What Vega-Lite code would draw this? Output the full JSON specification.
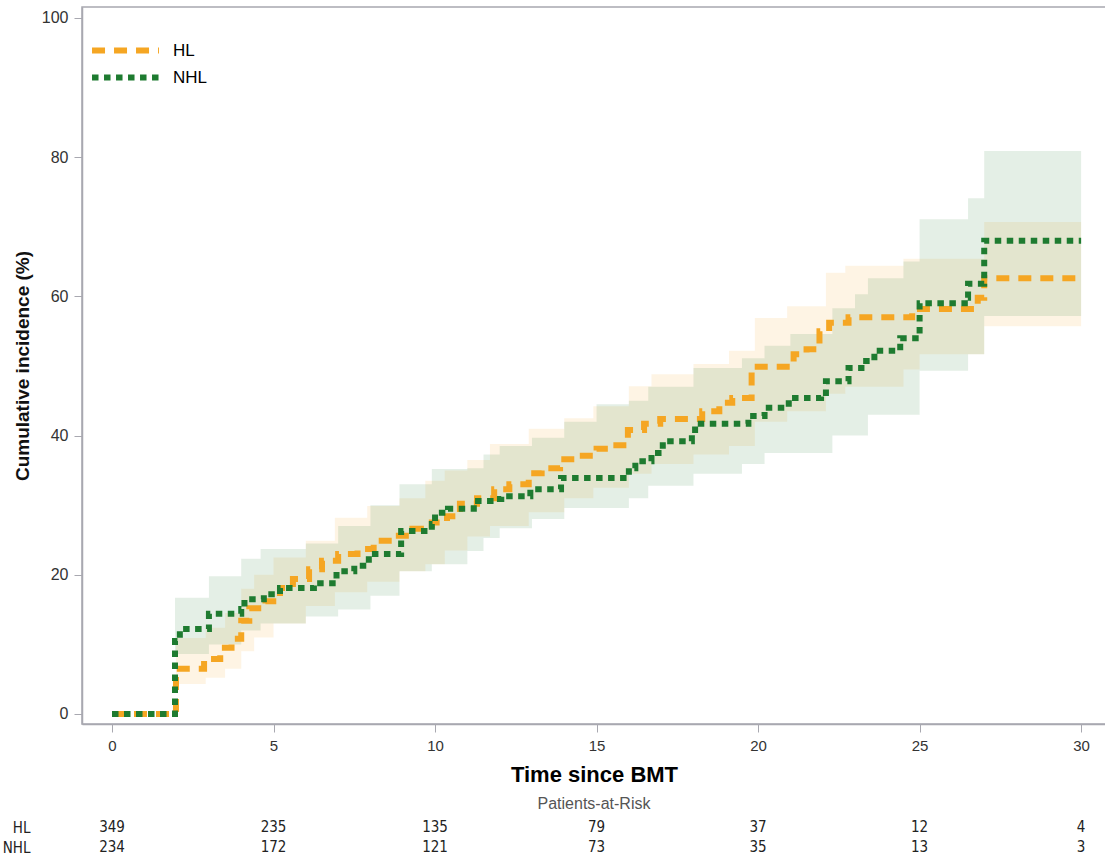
{
  "$schema": "https://vega.github.io/schema/vega-lite/v6.json",
  "background": "white",
  "padding": {"left": 2, "top": 6, "right": 1, "bottom": 0},
  "config": {"font": "Liberation Sans", "view": {"stroke": null},
    "legend": {"title": null, "orient": "top-left", "offset": 29, "padding": 0,
      "symbolType": "M-3,0H3", "symbolSize": 498, "symbolStrokeWidth": 6,
      "labelFontSize": 17, "labelColor": "#000000", "labelOffset": 33, "rowPadding": -2}},
  "spacing": 10,
  "resolve": {"legend": {"color": "independent", "strokeDash": "independent"}},
  "datasets": {
    "lines": [
      {"group": "HL", "t": 0, "v": 0}, {"group": "HL", "t": 1.98, "v": 6.5}, {"group": "HL", "t": 2.85, "v": 7.9},
      {"group": "HL", "t": 3.35, "v": 9.5}, {"group": "HL", "t": 3.7, "v": 10.8}, {"group": "HL", "t": 4.0, "v": 13.4},
      {"group": "HL", "t": 4.25, "v": 15.2}, {"group": "HL", "t": 4.75, "v": 16.2}, {"group": "HL", "t": 5.2, "v": 18.1},
      {"group": "HL", "t": 5.6, "v": 19.4}, {"group": "HL", "t": 6.1, "v": 20.8}, {"group": "HL", "t": 6.5, "v": 22.0},
      {"group": "HL", "t": 7.0, "v": 23.0}, {"group": "HL", "t": 7.6, "v": 23.7}, {"group": "HL", "t": 8.1, "v": 24.9},
      {"group": "HL", "t": 8.7, "v": 25.6}, {"group": "HL", "t": 9.3, "v": 26.6}, {"group": "HL", "t": 9.9, "v": 27.5},
      {"group": "HL", "t": 10.37, "v": 28.4}, {"group": "HL", "t": 10.77, "v": 30.2}, {"group": "HL", "t": 11.3, "v": 31.0},
      {"group": "HL", "t": 11.83, "v": 32.3}, {"group": "HL", "t": 12.3, "v": 33.0}, {"group": "HL", "t": 12.9, "v": 34.6},
      {"group": "HL", "t": 13.3, "v": 35.3}, {"group": "HL", "t": 13.87, "v": 36.6}, {"group": "HL", "t": 14.4, "v": 37.1},
      {"group": "HL", "t": 15.0, "v": 38.1}, {"group": "HL", "t": 15.5, "v": 38.6}, {"group": "HL", "t": 15.97, "v": 40.8},
      {"group": "HL", "t": 16.47, "v": 41.7}, {"group": "HL", "t": 16.97, "v": 42.4}, {"group": "HL", "t": 18.27, "v": 43.5},
      {"group": "HL", "t": 18.8, "v": 44.7}, {"group": "HL", "t": 19.2, "v": 45.4}, {"group": "HL", "t": 19.8, "v": 49.9},
      {"group": "HL", "t": 21.1, "v": 51.7}, {"group": "HL", "t": 21.5, "v": 52.4}, {"group": "HL", "t": 21.9, "v": 55.0},
      {"group": "HL", "t": 22.2, "v": 56.2}, {"group": "HL", "t": 22.8, "v": 57.0}, {"group": "HL", "t": 24.77, "v": 58.2},
      {"group": "HL", "t": 26.8, "v": 59.8}, {"group": "HL", "t": 27.0, "v": 62.6}, {"group": "HL", "t": 30.0, "v": 62.6},
      {"group": "NHL", "t": 0, "v": 0}, {"group": "NHL", "t": 1.95, "v": 10.5}, {"group": "NHL", "t": 2.1, "v": 12.2},
      {"group": "NHL", "t": 3.0, "v": 14.4}, {"group": "NHL", "t": 4.0, "v": 15.1}, {"group": "NHL", "t": 4.1, "v": 16.5},
      {"group": "NHL", "t": 4.7, "v": 17.2}, {"group": "NHL", "t": 5.2, "v": 18.1}, {"group": "NHL", "t": 6.25, "v": 18.8},
      {"group": "NHL", "t": 6.95, "v": 20.5}, {"group": "NHL", "t": 7.5, "v": 21.3}, {"group": "NHL", "t": 7.95, "v": 23.0},
      {"group": "NHL", "t": 8.95, "v": 26.3}, {"group": "NHL", "t": 9.9, "v": 27.3}, {"group": "NHL", "t": 10.0, "v": 28.9},
      {"group": "NHL", "t": 10.4, "v": 29.5}, {"group": "NHL", "t": 11.2, "v": 30.6}, {"group": "NHL", "t": 11.85, "v": 30.9},
      {"group": "NHL", "t": 12.05, "v": 31.3}, {"group": "NHL", "t": 12.95, "v": 32.3}, {"group": "NHL", "t": 13.9, "v": 33.9},
      {"group": "NHL", "t": 16.0, "v": 35.3}, {"group": "NHL", "t": 16.2, "v": 36.3}, {"group": "NHL", "t": 16.7, "v": 37.5},
      {"group": "NHL", "t": 17.05, "v": 39.2}, {"group": "NHL", "t": 17.95, "v": 40.2}, {"group": "NHL", "t": 18.05, "v": 41.7},
      {"group": "NHL", "t": 19.7, "v": 42.8}, {"group": "NHL", "t": 20.2, "v": 44.0}, {"group": "NHL", "t": 20.95, "v": 45.4},
      {"group": "NHL", "t": 21.95, "v": 45.7}, {"group": "NHL", "t": 22.1, "v": 47.8}, {"group": "NHL", "t": 22.8, "v": 49.7},
      {"group": "NHL", "t": 23.2, "v": 50.7}, {"group": "NHL", "t": 23.6, "v": 52.2}, {"group": "NHL", "t": 24.4, "v": 54.0},
      {"group": "NHL", "t": 25.0, "v": 59.0}, {"group": "NHL", "t": 26.4, "v": 59.8}, {"group": "NHL", "t": 26.5, "v": 61.8},
      {"group": "NHL", "t": 27.0, "v": 68.0}, {"group": "NHL", "t": 30.0, "v": 68.0}
    ],
    "bands": [
      {"band": "HL", "t": 1.98, "lo": 4.3, "hi": 10.9}, {"band": "HL", "t": 2.9, "lo": 5.2, "hi": 12.4},
      {"band": "HL", "t": 3.5, "lo": 6.5, "hi": 14.5}, {"band": "HL", "t": 4.0, "lo": 9.0, "hi": 18.0},
      {"band": "HL", "t": 4.4, "lo": 11.0, "hi": 20.0}, {"band": "HL", "t": 5.0, "lo": 13.0, "hi": 22.5},
      {"band": "HL", "t": 6.0, "lo": 15.5, "hi": 24.9}, {"band": "HL", "t": 6.9, "lo": 17.5, "hi": 28.2},
      {"band": "HL", "t": 7.9, "lo": 19.0, "hi": 29.9}, {"band": "HL", "t": 8.9, "lo": 20.5, "hi": 31.0},
      {"band": "HL", "t": 9.7, "lo": 21.5, "hi": 33.5}, {"band": "HL", "t": 10.3, "lo": 23.5, "hi": 35.0},
      {"band": "HL", "t": 11.0, "lo": 25.5, "hi": 36.5}, {"band": "HL", "t": 11.7, "lo": 27.0, "hi": 38.8},
      {"band": "HL", "t": 12.9, "lo": 29.0, "hi": 41.0}, {"band": "HL", "t": 14.0, "lo": 31.0, "hi": 42.5},
      {"band": "HL", "t": 14.9, "lo": 32.5, "hi": 44.2}, {"band": "HL", "t": 16.0, "lo": 34.5, "hi": 47.1},
      {"band": "HL", "t": 16.7, "lo": 35.9, "hi": 48.8}, {"band": "HL", "t": 18.0, "lo": 37.3, "hi": 50.3},
      {"band": "HL", "t": 19.1, "lo": 38.5, "hi": 52.2}, {"band": "HL", "t": 19.9, "lo": 42.0, "hi": 56.9},
      {"band": "HL", "t": 20.9, "lo": 43.5, "hi": 58.6}, {"band": "HL", "t": 22.1, "lo": 46.0, "hi": 63.4},
      {"band": "HL", "t": 22.7, "lo": 47.0, "hi": 64.4}, {"band": "HL", "t": 24.5, "lo": 49.5, "hi": 65.4},
      {"band": "HL", "t": 25.0, "lo": 51.7, "hi": 65.4}, {"band": "HL", "t": 27.0, "lo": 55.7, "hi": 70.7},
      {"band": "HL", "t": 30.0, "lo": 55.7, "hi": 70.7},
      {"band": "NHL", "t": 1.95, "lo": 8.6, "hi": 16.7}, {"band": "NHL", "t": 3.0, "lo": 10.0, "hi": 19.8},
      {"band": "NHL", "t": 4.0, "lo": 12.0, "hi": 22.3}, {"band": "NHL", "t": 4.6, "lo": 13.0, "hi": 23.7},
      {"band": "NHL", "t": 6.0, "lo": 14.0, "hi": 24.5}, {"band": "NHL", "t": 7.0, "lo": 15.0, "hi": 27.0},
      {"band": "NHL", "t": 8.0, "lo": 17.0, "hi": 30.0}, {"band": "NHL", "t": 8.9, "lo": 20.5, "hi": 33.0},
      {"band": "NHL", "t": 9.9, "lo": 21.5, "hi": 35.2}, {"band": "NHL", "t": 11.0, "lo": 23.4, "hi": 35.3},
      {"band": "NHL", "t": 11.5, "lo": 25.3, "hi": 37.3}, {"band": "NHL", "t": 12.0, "lo": 26.7, "hi": 38.5},
      {"band": "NHL", "t": 13.0, "lo": 28.0, "hi": 39.7}, {"band": "NHL", "t": 14.0, "lo": 29.6, "hi": 42.0},
      {"band": "NHL", "t": 15.0, "lo": 29.6, "hi": 44.5}, {"band": "NHL", "t": 16.0, "lo": 31.0, "hi": 45.0},
      {"band": "NHL", "t": 16.6, "lo": 32.8, "hi": 47.0}, {"band": "NHL", "t": 18.0, "lo": 34.5, "hi": 49.7},
      {"band": "NHL", "t": 19.5, "lo": 35.9, "hi": 51.1}, {"band": "NHL", "t": 20.2, "lo": 37.5, "hi": 52.9},
      {"band": "NHL", "t": 21.0, "lo": 37.5, "hi": 54.6}, {"band": "NHL", "t": 22.3, "lo": 40.0, "hi": 58.3},
      {"band": "NHL", "t": 23.0, "lo": 40.0, "hi": 60.3}, {"band": "NHL", "t": 23.4, "lo": 43.0, "hi": 62.6},
      {"band": "NHL", "t": 24.5, "lo": 43.0, "hi": 65.0}, {"band": "NHL", "t": 25.0, "lo": 49.3, "hi": 71.1},
      {"band": "NHL", "t": 26.5, "lo": 51.7, "hi": 74.1}, {"band": "NHL", "t": 27.0, "lo": 57.2, "hi": 80.9},
      {"band": "NHL", "t": 30.0, "lo": 57.2, "hi": 80.9}
    ],
    "risk": [
      {"group": "HL", "t": 0, "n": 349}, {"group": "HL", "t": 5, "n": 235}, {"group": "HL", "t": 10, "n": 135},
      {"group": "HL", "t": 15, "n": 79}, {"group": "HL", "t": 20, "n": 37}, {"group": "HL", "t": 25, "n": 12},
      {"group": "HL", "t": 30, "n": 4},
      {"group": "NHL", "t": 0, "n": 234}, {"group": "NHL", "t": 5, "n": 172}, {"group": "NHL", "t": 10, "n": 121},
      {"group": "NHL", "t": 15, "n": 73}, {"group": "NHL", "t": 20, "n": 35}, {"group": "NHL", "t": 25, "n": 13},
      {"group": "NHL", "t": 30, "n": 3}
    ]
  },
  "vconcat": [
    {
      "width": 1024,
      "height": 717,
      "view": {"stroke": "#A8A8B0", "strokeWidth": 1.5},
      "layer": [
        {
          "data": {"name": "bands"},
          "mark": {"type": "area", "interpolate": "step-after", "opacity": 0.12},
          "encoding": {
            "x": {"field": "t", "type": "quantitative",
              "scale": {"domain": [-0.929, 30.77], "nice": false, "zero": false},
              "axis": {"values": [0, 5, 10, 15, 20, 25, 30], "title": "Time since BMT", "grid": false,
                "tickSize": 8, "tickColor": "#A8A8B0", "domainColor": "#A8A8B0", "domainWidth": 1.5,
                "labelFontSize": 15, "labelColor": "#333333", "labelPadding": 6,
                "titleFontSize": 22, "titleFontWeight": "bold", "titleColor": "#000000", "titlePadding": 11}},
            "y": {"field": "lo", "type": "quantitative",
              "scale": {"domain": [-1.44, 101.58], "nice": false, "zero": false},
              "axis": {"values": [0, 20, 40, 60, 80, 100], "title": "Cumulative incidence (%)", "grid": false,
                "tickSize": 8, "tickColor": "#A8A8B0", "domainColor": "#A8A8B0", "domainWidth": 1.5,
                "labelFontSize": 16, "labelColor": "#333333", "labelPadding": 6,
                "titleFontSize": 19, "titleFontWeight": "bold", "titleColor": "#111111", "titlePadding": 9}},
            "y2": {"field": "hi"},
            "fill": {"field": "band", "type": "nominal",
              "scale": {"domain": ["HL", "NHL"], "range": ["#F5A623", "#1E7B30"]}, "legend": null}
          }
        },
        {
          "data": {"name": "lines"},
          "mark": {"type": "line", "interpolate": "step-after", "strokeWidth": 6},
          "encoding": {
            "x": {"field": "t", "type": "quantitative"},
            "y": {"field": "v", "type": "quantitative"},
            "color": {"field": "group", "type": "nominal",
              "scale": {"domain": ["HL", "NHL"], "range": ["#F5A623", "#1E7B30"]}},
            "strokeDash": {"field": "group", "type": "nominal",
              "scale": {"domain": ["HL", "NHL"], "range": [[13, 9], [6.5, 5.5]]}}
          }
        }
      ]
    },
    {
      "width": 1024,
      "height": 40,
      "title": {"text": "Patients-at-Risk", "fontSize": 16, "fontWeight": "normal", "color": "#555555", "anchor": "middle", "offset": 5},
      "data": {"name": "risk"},
      "mark": {"type": "text", "fontSize": 15, "font": "DejaVu Sans Condensed, Liberation Sans", "color": "#222222"},
      "encoding": {
        "x": {"field": "t", "type": "quantitative",
          "scale": {"domain": [-0.929, 30.77], "nice": false, "zero": false}, "axis": null},
        "y": {"field": "group", "type": "nominal", "scale": {"domain": ["HL", "NHL"]},
          "axis": {"title": null, "domain": false, "ticks": false, "labelPadding": 52, "labelFontSize": 15,
            "labelFont": "DejaVu Sans Condensed, Liberation Sans", "labelColor": "#222222"}},
        "text": {"field": "n", "type": "quantitative"}
      }
    }
  ]
}
